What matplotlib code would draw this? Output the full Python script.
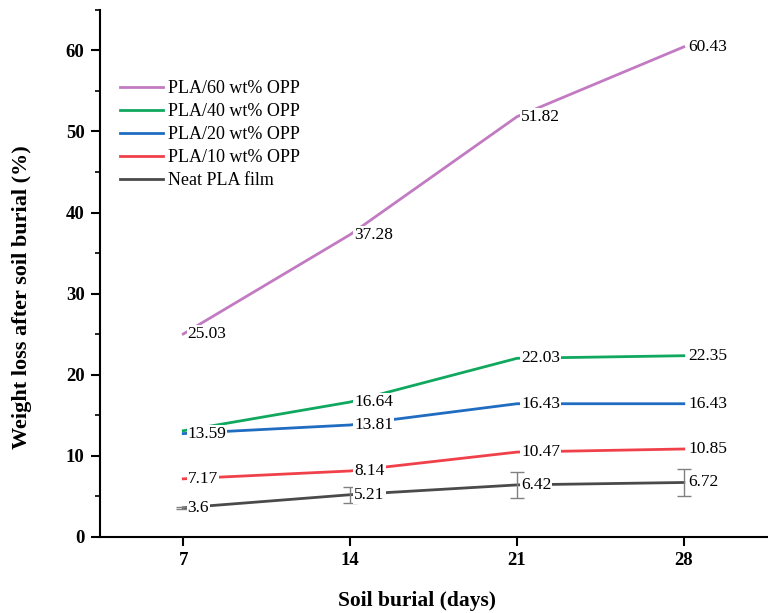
import matplotlib
matplotlib.use("Agg")
import matplotlib.pyplot as plt
from matplotlib.ticker import MultipleLocator

days = [7, 14, 21, 28]
series_names = ["PLA/60 wt% OPP", "PLA/40 wt% OPP", "PLA/20 wt% OPP",
                "PLA/10 wt% OPP", "Neat PLA film"]
pla60 = [25.03, 37.28, 51.82, 60.43]
pla40 = [13.1, 16.64, 22.03, 22.35]
pla20 = [12.75, 13.81, 16.43, 16.43]
pla10 = [7.17, 8.14, 10.47, 10.85]
neat = [3.6, 5.21, 6.42, 6.72]
neat_err = [0.15, 0.96, 1.6, 1.72]

# the green label at day 7 is hidden under the blue one in the reference
labels60 = ["25.03", "37.28", "51.82", "60.43"]
labels40 = ["", "16.64", "22.03", "22.35"]
labels20 = ["13.59", "13.81", "16.43", "16.43"]
labels10 = ["7.17", "8.14", "10.47", "10.85"]
labels_neat = ["3.6", "5.21", "6.42", "6.72"]

colors = ["#C27BC2", "#10A85E", "#1F6CC0", "#F0404A", "#4A4A4A"]

plt.rcParams['font.family'] = ['Liberation Serif', 'DejaVu Serif']

fig = plt.figure(figsize=(7.68, 6.13), dpi=100)
ax = fig.add_axes([0.130, 0.124, 0.869, 0.860])

all_vals = [pla60, pla40, pla20, pla10, neat]
all_labels = [labels60, labels40, labels20, labels10, labels_neat]

for i, (name, vals, col) in enumerate(zip(series_names, all_vals, colors)):
    ax.plot(days, vals, color=col, lw=2, label=name, zorder=2)

ax.errorbar(days, neat, yerr=neat_err, fmt='none', ecolor='#808080',
            elinewidth=1, capsize=5, capthick=1, zorder=2.5)

for i in range(len(all_vals)):
    for x, y, t in zip(days, all_vals[i], all_labels[i]):
        if not t:
            continue
        ax.annotate(t, (x, y), xytext=(3, 0), textcoords='offset points',
                    ha='left', va='center', fontsize=12.5,
                    bbox=dict(boxstyle='square,pad=0.05', fc='white', ec='none'),
                    zorder=3)

ax.set_xlim(3.5, 31.5)
ax.set_ylim(0, 65)
ax.set_xticks(days)
ax.yaxis.set_minor_locator(MultipleLocator(5))
ax.set_yticks([0, 10, 20, 30, 40, 50, 60])

for s in ['top', 'right']:
    ax.spines[s].set_visible(False)
for s in ['left', 'bottom']:
    ax.spines[s].set_linewidth(1.5)

ax.tick_params(axis='both', which='major', direction='out', length=6.5, width=1.5,
               labelsize=13.5, pad=4.5)
ax.tick_params(axis='y', which='minor', direction='out', length=3.5, width=1.2)
for lab in ax.get_xticklabels() + ax.get_yticklabels():
    lab.set_fontweight('bold')

ax.set_xlabel("Soil burial (days)", fontsize=15.5, fontweight='bold')
ax.set_ylabel("Weight loss after soil burial (%)", fontsize=16, fontweight='bold')
ax.xaxis.set_label_coords(0.475, -0.102)
ax.yaxis.set_label_coords(-0.102, 0.455)

ax.legend(loc='upper left', bbox_to_anchor=(0.019, 0.88), frameon=False,
          fontsize=13, handlelength=2.4, handletextpad=0.3, labelspacing=0.33,
          borderaxespad=0)

fig.savefig("out.png", dpi=100)
